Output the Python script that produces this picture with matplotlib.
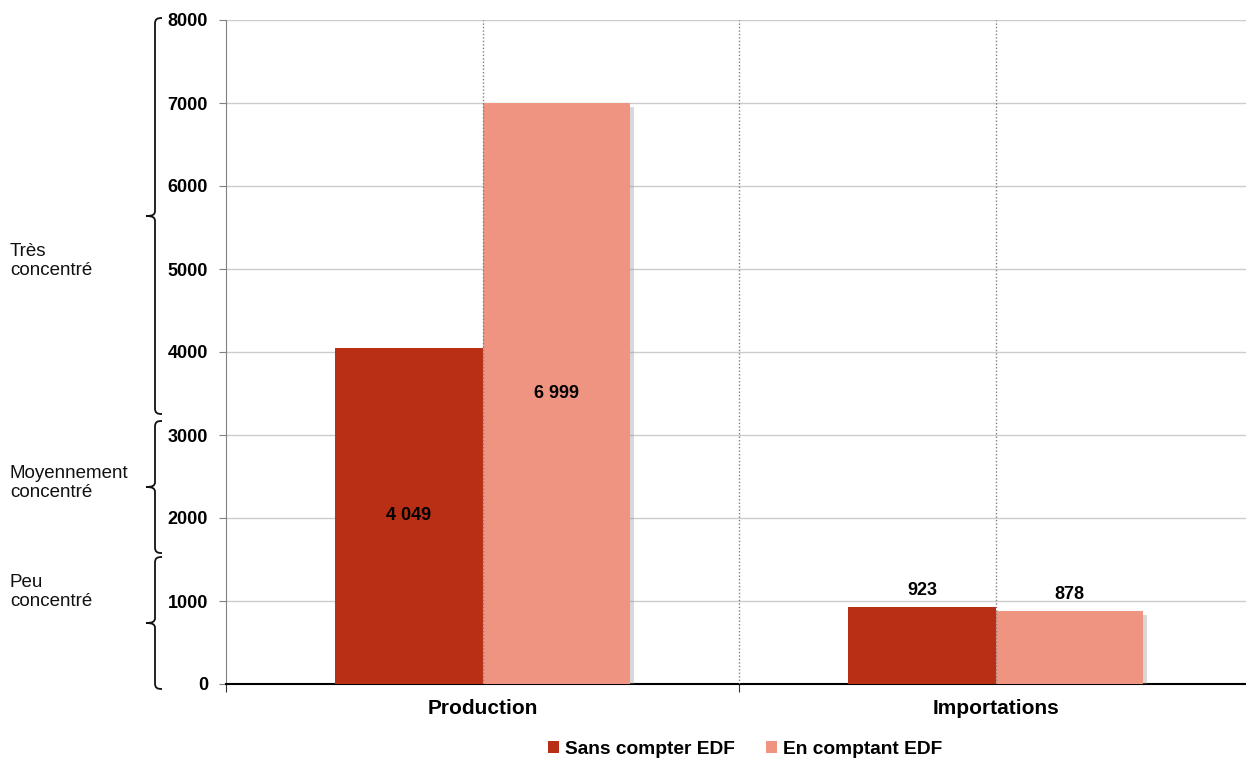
import matplotlib
matplotlib.use("Agg")
import matplotlib.pyplot as plt
from matplotlib.path import Path
from matplotlib.patches import PathPatch, Patch
import matplotlib.patheffects as pe
import numpy as np

plt.rcParams['font.family'] = ['Liberation Sans', 'DejaVu Sans']

categories = ["Production", "Importations"]
series_names = ["Sans compter EDF", "En comptant EDF"]
sans_edf = [4049, 923]
avec_edf = [6999, 878]
value_labels_sans = ["4 049", "923"]
value_labels_avec = ["6 999", "878"]
yticks = [0, 1000, 2000, 3000, 4000, 5000, 6000, 7000, 8000]

zone_names = ["Peu\nconcentré", "Moyennement\nconcentré", "Très\nconcentré"]
zone_ranges = [(-60, 1530), (1578, 3169), (3253, 8024)]

c_dark = "#B92F16"
c_light = "#EE9480"

W, H = 1246, 760
fig = plt.figure(figsize=(W / 100, H / 100), dpi=100)
ax_left, ax_right, ax_top, ax_bot = 226, 1246, 20, 684
ax = fig.add_axes([ax_left / W, 1 - ax_bot / H, (ax_right - ax_left) / W, (ax_bot - ax_top) / H])

ncat = len(categories)
centers = np.arange(ncat) + 0.5
bw = 0.287
shadow = [pe.SimplePatchShadow(offset=(3, -3), shadow_rgbFace="#909090", alpha=0.35), pe.Normal()]
b1 = ax.bar(centers - bw / 2, sans_edf, width=bw, color=c_dark, zorder=3,
            path_effects=shadow)
b2 = ax.bar(centers + bw / 2, avec_edf, width=bw, color=c_light, zorder=3,
            path_effects=shadow)

ax.set_yticks(yticks)
ax.set_yticklabels([str(v) for v in yticks], fontsize=13, fontweight="bold")
ax.yaxis.grid(True, color="#cccccc", linewidth=1, zorder=0)
ax.set_axisbelow(True)

# vertical dotted lines at category centres and boundaries
for xv in list(centers) + list(np.arange(1, ncat)):
    ax.axvline(xv, color="#808080", linestyle=(0, (1, 1.5)), linewidth=1, zorder=4)

ax.set_xticks(list(np.arange(0, ncat + 1)))
ax.set_xticklabels([])
ax.set_ylim(0, 8000)
ax.set_xlim(0, (ax_right - ax_left) / 513)
ax.tick_params(axis="x", length=6, direction="out", color="#333333")
ax.tick_params(axis="y", length=5, direction="out", color="#808080", pad=8)
for i, c in enumerate(categories):
    ax.text(centers[i], -300, c, ha="center", va="center", fontsize=15, fontweight="bold")

for s in ["top", "right"]:
    ax.spines[s].set_visible(False)
ax.spines["left"].set_color("#808080")
ax.spines["bottom"].set_color("#000000")
ax.spines["bottom"].set_linewidth(1.5)

# value labels
for i in range(ncat):
    for vals, labs, off in ((sans_edf, value_labels_sans, -bw / 2), (avec_edf, value_labels_avec, bw / 2)):
        v = vals[i]
        if v > 2000:
            ax.text(centers[i] + off, v / 2, labs[i], ha="center", va="center",
                    fontsize=13, fontweight="bold", zorder=5)
        else:
            ax.annotate(labs[i], (centers[i] + off, v), xytext=(0, 12), textcoords="offset points",
                        ha="center", va="center", fontsize=13, fontweight="bold", zorder=5)

# legend
handles = [Patch(facecolor=c_dark, edgecolor="none"), Patch(facecolor=c_light, edgecolor="none")]
leg = fig.legend(handles=handles, labels=series_names, loc="center", bbox_to_anchor=(745 / W, 1 - 749 / H),
                 ncol=2, frameon=False, prop={"weight": "bold", "size": 13.8},
                 handlelength=0.6, handleheight=0.6, handletextpad=0.3, columnspacing=1.6)

# braces on the left
fig.canvas.draw()
def brace(y0, y1):
    dy0 = ax.transData.transform((0, y0))[1]
    dy1 = ax.transData.transform((0, y1))[1]
    top, bot = max(dy0, dy1), min(dy0, dy1)
    mid = (top + bot) / 2
    xl, xh, xt = 155, 162, 146
    verts = [(xh, top), (xl + 2, top), (xl, top - 1), (xl, top - 6),
             (xl, mid + 5),
             (xl, mid + 1), (xl - 3, mid), (xt, mid),
             (xl - 3, mid), (xl, mid - 1), (xl, mid - 5),
             (xl, bot + 6),
             (xl, bot + 1), (xl + 2, bot), (xh, bot)]
    codes = [Path.MOVETO, Path.CURVE4, Path.CURVE4, Path.CURVE4,
             Path.LINETO,
             Path.CURVE4, Path.CURVE4, Path.CURVE4,
             Path.CURVE4, Path.CURVE4, Path.CURVE4,
             Path.LINETO,
             Path.CURVE4, Path.CURVE4, Path.CURVE4]
    p = PathPatch(Path(verts, codes), transform=None, fill=False, edgecolor="#111111", linewidth=1.3)
    fig.patches.append(p)

for (y0, y1) in zone_ranges:
    brace(y0, y1)

zone_text_y = [592, 483, 261]
for name, ty in zip(zone_names, zone_text_y):
    fig.text(10 / W, 1 - ty / H, name, ha="left", va="center", fontsize=13.5, linespacing=1.2, color="#111111")

fig.savefig("out.png", dpi=100)
